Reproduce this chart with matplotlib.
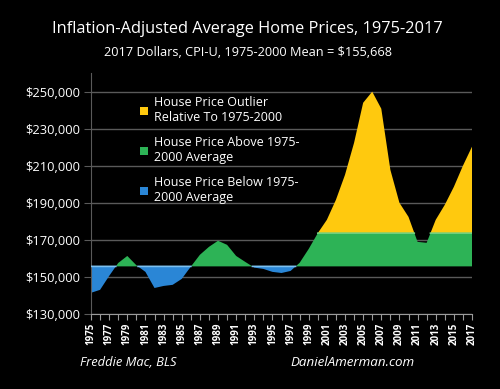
import numpy as np
import matplotlib.pyplot as plt
from matplotlib.patches import Patch

# data (2017 dollars)
years = list(range(1975, 2018))
prices = [141400, 143000, 150500, 157500, 161300, 156300, 152700, 144000, 145100, 145700,
          148900, 155500, 161900, 166200, 169500, 167300, 161300, 158100, 155000, 154300,
          152700, 152100, 153200, 157600, 165100, 173600, 180800, 191600, 205100, 222400,
          244000, 250000, 240800, 207800, 190000, 182400, 168900, 168400, 180800, 188900,
          198600, 210000, 220300]
mean_price = 155668
yticks = [130000, 150000, 170000, 190000, 210000, 230000, 250000]
legend_labels = ['House Price Outlier\nRelative To 1975-2000',
                 'House Price Above 1975-\n2000 Average',
                 'House Price Below 1975-\n2000 Average']

yellow = '#ffc90e'
green = '#2db356'
blue = '#2a86d6'
grid_col = '#5a5a5a'
font = 'Open Sans'

x = np.array(years, dtype=float)
y = np.array(prices, dtype=float)
cap = y[:26].max()   # top of the 1975-2000 range

fig = plt.figure(figsize=(5, 3.89), dpi=100, facecolor='black')
ax = fig.add_axes([0.182, 0.193, 0.762, 0.619], facecolor='black')

# densify so the fills split cleanly where the line crosses mean / cap
xs = np.linspace(x[0], x[-1], 2000)
ys = np.interp(xs, x, y)

ax.fill_between(xs, ys, mean_price, where=ys <= mean_price, color=blue, lw=0, zorder=2)
ax.fill_between(xs, mean_price, np.minimum(ys, cap), where=ys >= mean_price, color=green, lw=0, zorder=2)
ax.fill_between(xs, cap, ys, where=ys >= cap, color=yellow, lw=0, zorder=2)
# soft lighter edges like the bevel in the original
ax.plot(xs, np.where(ys >= cap, cap, np.nan), color='#6fcf7f', lw=1.2, zorder=3)
ax.plot(xs, np.where(ys <= mean_price, mean_price, np.nan), color='#7cc0f0', lw=1.2, zorder=3)

ax.set_xlim(1975, 2017)
ax.set_ylim(130000, 260000)
ax.set_yticks(yticks)
ax.set_yticklabels([f'${v:,.0f}' for v in yticks], color='white', fontsize=9.3, family=font)
ax.grid(axis='y', color=grid_col, lw=1, zorder=1)
ax.tick_params(axis='y', length=5, color=grid_col, pad=3)

ax.set_xticks(years)
ax.set_xticklabels([str(v) if v % 2 == 1 else '' for v in years], rotation=90,
                   color='white', fontsize=7, family=font, fontweight='bold')
ax.tick_params(axis='x', length=4, color='#9a9a9a', pad=2)

for s in ['top', 'right']:
    ax.spines[s].set_visible(False)
ax.spines['left'].set_color(grid_col)
ax.spines['bottom'].set_color('#9a9a9a')

handles = [Patch(facecolor=c, edgecolor='none') for c in [yellow, green, blue]]
leg = ax.legend(handles, legend_labels, loc='upper left', bbox_to_anchor=(0.1, 0.95),
                frameon=False, handlelength=0.6, handleheight=0.6, handletextpad=0.5,
                labelspacing=0.95, prop={'family': font, 'size': 9})
for t in leg.get_texts():
    t.set_color('white')

fig.text(0.495, 0.925, 'Inflation-Adjusted Average Home Prices, 1975-2017', color='white',
         fontsize=11.8, family=font, ha='center', va='center')
fig.text(0.495, 0.865, '2017 Dollars, CPI-U, 1975-2000 Mean = $155,668', color='white',
         fontsize=9.2, family=font, ha='center', va='center')
fig.text(0.16, 0.068, 'Freddie Mac, BLS', color='white', fontsize=9.3, family=font,
         style='italic', va='center')
fig.text(0.58, 0.068, 'DanielAmerman.com', color='white', fontsize=9.6, family=font,
         style='italic', va='center')

fig.savefig('out.png', dpi=100, facecolor='black')
